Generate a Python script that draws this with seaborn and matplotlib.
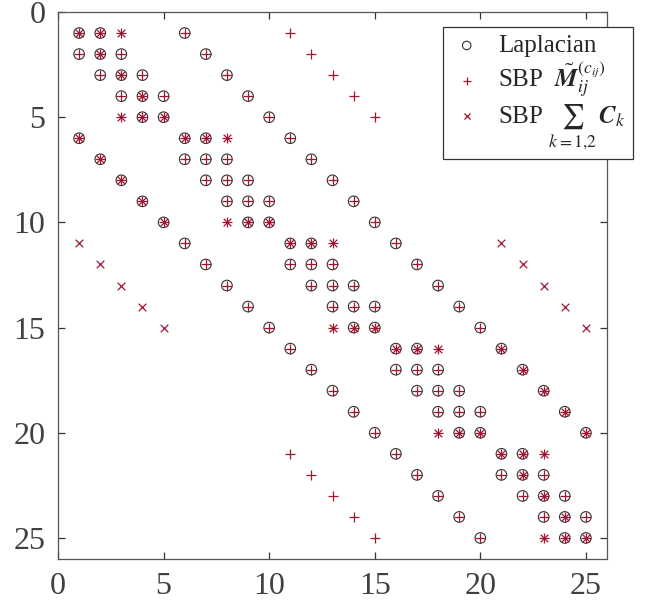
import matplotlib
matplotlib.use("Agg")
import matplotlib.pyplot as plt
import seaborn as sns
import pandas as pd

# Column indices of the nonzeros in each row (rows 1..25)
laplacian_cols = [
    [1, 2, 6], [1, 2, 3, 7], [2, 3, 4, 8], [3, 4, 5, 9], [4, 5, 10],
    [1, 6, 7, 11], [2, 6, 7, 8, 12], [3, 7, 8, 9, 13], [4, 8, 9, 10, 14], [5, 9, 10, 15],
    [6, 11, 12, 16], [7, 11, 12, 13, 17], [8, 12, 13, 14, 18], [9, 13, 14, 15, 19], [10, 14, 15, 20],
    [11, 16, 17, 21], [12, 16, 17, 18, 22], [13, 17, 18, 19, 23], [14, 18, 19, 20, 24], [15, 19, 20, 25],
    [16, 21, 22], [17, 21, 22, 23], [18, 22, 23, 24], [19, 23, 24, 25], [20, 24, 25],
]
sbp_m_cols = [
    [1, 2, 3, 6, 11], [1, 2, 3, 7, 12], [2, 3, 4, 8, 13], [3, 4, 5, 9, 14], [3, 4, 5, 10, 15],
    [1, 6, 7, 8, 11], [2, 6, 7, 8, 12], [3, 7, 8, 9, 13], [4, 8, 9, 10, 14], [5, 8, 9, 10, 15],
    [6, 11, 12, 13, 16], [7, 11, 12, 13, 17], [8, 12, 13, 14, 18], [9, 13, 14, 15, 19], [10, 13, 14, 15, 20],
    [11, 16, 17, 18, 21], [12, 16, 17, 18, 22], [13, 17, 18, 19, 23], [14, 18, 19, 20, 24], [15, 18, 19, 20, 25],
    [11, 16, 21, 22, 23], [12, 17, 21, 22, 23], [13, 18, 22, 23, 24], [14, 19, 23, 24, 25], [15, 20, 23, 24, 25],
]
sbp_c_cols = [
    [1, 2, 3], [2], [3], [4], [3, 4, 5],
    [1, 6, 7, 8], [2], [3], [4], [5, 8, 9, 10],
    [1, 11, 12, 13, 21], [2, 22], [3, 23], [4, 24], [5, 13, 14, 15, 25],
    [16, 17, 18, 21], [22], [23], [24], [18, 19, 20, 25],
    [21, 22, 23], [22], [23], [24], [23, 24, 25],
]
tick_values = [0, 5, 10, 15, 20, 25]
legend_labels = [
    "Laplacian",
    r"SBP  $\tilde{\mathbfit{M}}_{ij}^{(c_{ij})}$",
    r"SBP $\sum_{k{=}1{,}2}\,\mathbfit{C}_k$",
]


def to_frame(cols_per_row):
    rows, cols = [], []
    for r, cs in enumerate(cols_per_row, start=1):
        for c in cs:
            rows.append(r)
            cols.append(c)
    return pd.DataFrame({"col": cols, "row": rows})


df_lap = to_frame(laplacian_cols)
df_m = to_frame(sbp_m_cols)
df_c = to_frame(sbp_c_cols)

sns.set_style("ticks")
plt.rcParams["font.family"] = ["Liberation Serif", "DejaVu Serif"]
plt.rcParams["mathtext.fontset"] = "stix"

red = "#A2142F"
dark = "#333333"
axis_col = "#555555"

fig = plt.figure(figsize=(6.52, 6.09), dpi=100)
ax = fig.add_axes([58 / 652, 1 - 559 / 609, (607 - 58) / 652, (559 - 12) / 609])

sns.scatterplot(data=df_lap, x="col", y="row", ax=ax, marker="o", s=58,
                facecolor="none", edgecolor=dark, linewidth=0.8, label=legend_labels[0])
sns.scatterplot(data=df_m, x="col", y="row", ax=ax, marker="+", s=52,
                color=red, linewidth=0.9, label=legend_labels[1])
sns.scatterplot(data=df_c, x="col", y="row", ax=ax, marker="x", s=30,
                color=red, linewidth=0.9, label=legend_labels[2])

ax.set_xlim(0, 26)
ax.set_ylim(26, 0)
ax.set_xticks(tick_values)
ax.set_yticks(tick_values)
ax.set_xlabel("")
ax.set_ylabel("")
for sp in ax.spines.values():
    sp.set_visible(True)
    sp.set_color(axis_col)
    sp.set_linewidth(0.9)
ax.tick_params(direction="in", top=True, right=True, length=5, width=0.9,
               color="#333333", labelcolor="#404040", labelsize=23, pad=9)

leg = ax.legend(loc="upper right", bbox_to_anchor=(633 / 652, 1 - 27 / 609),
                bbox_transform=fig.transFigure, borderaxespad=0, fontsize=18,
                frameon=True, fancybox=False, framealpha=1, edgecolor="#333333",
                markerscale=0.8, handletextpad=0.6, handlelength=1.3,
                borderpad=0.3, labelspacing=0.1)
leg.get_frame().set_linewidth(0.9)

fig.savefig("out.png", dpi=100)
